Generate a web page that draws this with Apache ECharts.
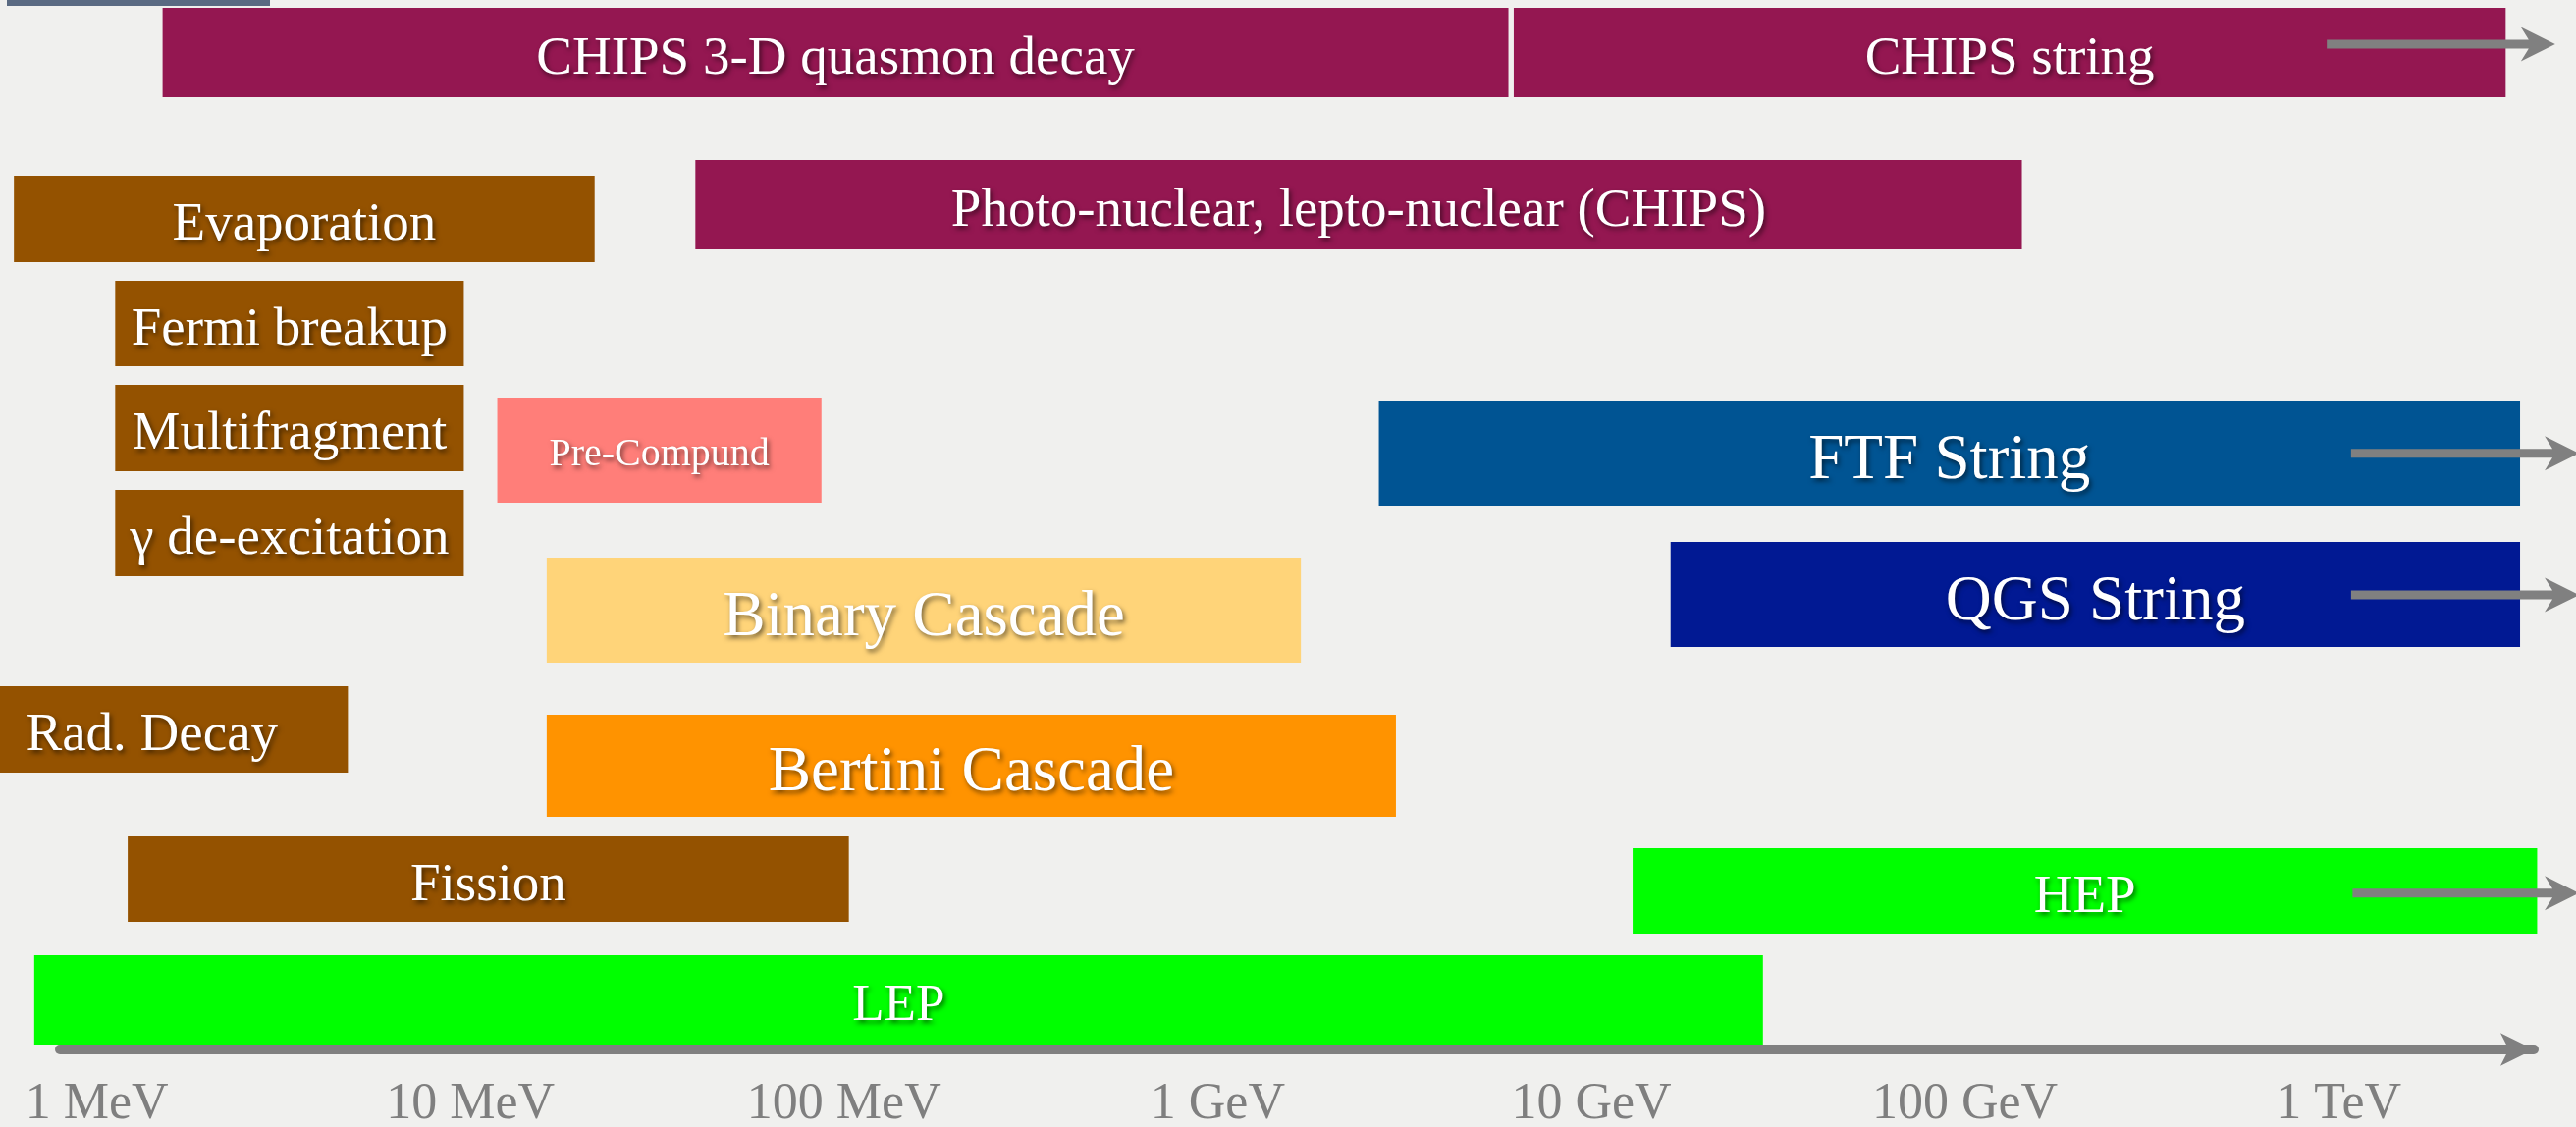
<!DOCTYPE html>
<html>
<head>
<meta charset="utf-8">
<title>Geant4 hadronic models energy ranges</title>
<script src="https://cdn.jsdelivr.net/npm/echarts@6/dist/echarts.min.js"></script>
<style>
  html, body { margin: 0; padding: 0; background: #f0f0ee; }
  #chart { width: 2624px; height: 1148px; }
</style>
</head>
<body>
<div id="chart"></div>
<script>
// model names, energy range in MeV, vertical lane (0 = top, 100 = axis line)
const names = [
  'CHIPS 3-D quasmon decay', 'CHIPS string', 'Evaporation',
  'Photo-nuclear, lepto-nuclear (CHIPS)', 'Fermi breakup', 'Multifragment',
  'γ de-excitation', 'Pre-Compund', 'FTF String', 'Binary Cascade',
  'QGS String', 'Rad. Decay', 'Bertini Cascade', 'Fission', 'HEP', 'LEP'
];
const eFrom = [1.5, 6200, 0.6, 40, 1.12, 1.12, 1.12, 11.8, 2700, 16, 16300, 0.42, 16, 1.21, 12900, 0.68];
const eTo = [6000, 2.8e6, 21.5, 1.42e5, 9.6, 9.6, 9.6, 87, 3.06e6, 1670, 3.06e6, 4.7, 3000, 103, 3.4e6, 28800];
const laneFrom = [0.75, 0.75, 16.74, 15.25, 26.75, 36.67, 46.68, 37.89, 38.17, 53.13, 51.64, 65.39, 68.1, 79.7, 80.82, 91.02];
const laneTo = [9.26, 9.26, 24.98, 23.76, 34.89, 44.9, 54.91, 47.9, 48.18, 63.14, 61.65, 73.62, 77.83, 87.84, 88.96, 99.53];
// "continues beyond" arrows (MeV), null = no arrow
const arrowFrom = [null, 9.3e5, null, null, null, null, null, null, 1.08e6, null, 1.08e6, null, null, null, 1.09e6, null];
const arrowTo = [null, 3.8e6, null, null, null, null, null, null, 4.4e6, null, 4.4e6, null, null, null, 4.4e6, null];
const arrowLane = [null, 4.2, null, null, null, null, null, null, 43.2, null, 56.7, null, null, null, 85.1, null];
const tickLabels = ['1 MeV', '10 MeV', '100 MeV', '1 GeV', '10 GeV', '100 GeV', '1 TeV'];

// styles
const FONT = '"Liberation Serif", "DejaVu Serif", serif';
const MAROON = '#941751', MOCHA = '#945200', GREEN = '#00ff00';
const barColor = [MAROON, MAROON, MOCHA, MAROON, MOCHA, MOCHA, MOCHA, '#ff7e79', '#005493',
  '#ffd479', '#011993', MOCHA, '#ff9300', MOCHA, GREEN, GREEN];
const barFont = [55, 55, 55, 55, 55, 55, 55, 40, 65, 65, 65, 55, 65, 55, 55, 53];

const barData = names.map((n, i) => [eFrom[i], eTo[i], laneFrom[i], laneTo[i]]);
const arrowData = [];
names.forEach((n, i) => {
  if (arrowTo[i] != null) arrowData.push([arrowFrom[i], arrowTo[i], arrowLane[i]]);
});

const chart = echarts.init(document.getElementById('chart'));

function renderBar(params, api) {
  const i = params.dataIndex;
  const a = api.coord([api.value(0), api.value(2)]);
  const b = api.coord([api.value(1), api.value(3)]);
  return {
    type: 'rect',
    shape: { x: a[0], y: a[1], width: b[0] - a[0], height: b[1] - a[1] },
    style: { fill: barColor[i] },
    textContent: {
      style: {
        text: names[i],
        fill: '#fff',
        fontSize: barFont[i],
        fontFamily: FONT,
        textShadowColor: 'rgba(0,0,0,0.55)',
        textShadowBlur: 5,
        textShadowOffsetX: 2,
        textShadowOffsetY: 3
      }
    },
    // the slide font sits a bit lower in its box
    textConfig: { position: 'inside', offset: [0, Math.round(barFont[i] * 0.13)] }
  };
}

function renderArrow(params, api) {
  const s = api.coord([api.value(0), api.value(2)]);
  const t = api.coord([api.value(1), api.value(2)]);
  const y = s[1], x0 = s[0], x1 = t[0];
  return {
    type: 'polygon',
    shape: {
      points: [[x0, y - 4.5], [x1 - 27, y - 4.5], [x1 - 35, y - 17.5], [x1, y],
        [x1 - 35, y + 17.5], [x1 - 27, y + 4.5], [x0, y + 4.5]]
    },
    style: { fill: '#808080' }
  };
}

const option = {
  backgroundColor: '#f0f0ee',
  animation: false,
  grid: { left: 61, right: 43, top: 0, bottom: 79, outerBoundsMode: 'none' },
  xAxis: {
    type: 'log',
    logBase: 10,
    min: 0.7966,
    max: 3.33e6,
    axisLine: {
      show: true,
      onZero: false,
      symbol: ['none', 'arrow'],
      symbolSize: [25, 34],
      lineStyle: { color: '#808080', width: 10 }
    },
    axisTick: { show: false },
    splitLine: { show: false },
    axisLabel: {
      margin: 30,
      color: '#7f7f7f',
      fontSize: 52,
      fontFamily: FONT,
      showMinLabel: false,
      showMaxLabel: false,
      formatter: function (v) {
        const k = Math.log10(v);
        const r = Math.round(k);
        return Math.abs(k - r) < 1e-6 && tickLabels[r] !== undefined ? tickLabels[r] : '';
      }
    }
  },
  yAxis: {
    type: 'value',
    inverse: true,
    min: 0,
    max: 100,
    show: false
  },
  graphic: [{
    type: 'rect',
    left: 7, top: 0,
    shape: { width: 268, height: 6 },
    style: { fill: '#5a6a82' }
  }],
  series: [
    {
      type: 'custom',
      name: 'models',
      renderItem: renderBar,
      encode: { x: [0, 1], y: [2, 3] },
      data: barData
    },
    {
      type: 'custom',
      name: 'arrows',
      renderItem: renderArrow,
      encode: { x: [0, 1], y: 2 },
      data: arrowData,
      z: 3
    }
  ]
};

chart.setOption(option);
</script>
</body>
</html>
